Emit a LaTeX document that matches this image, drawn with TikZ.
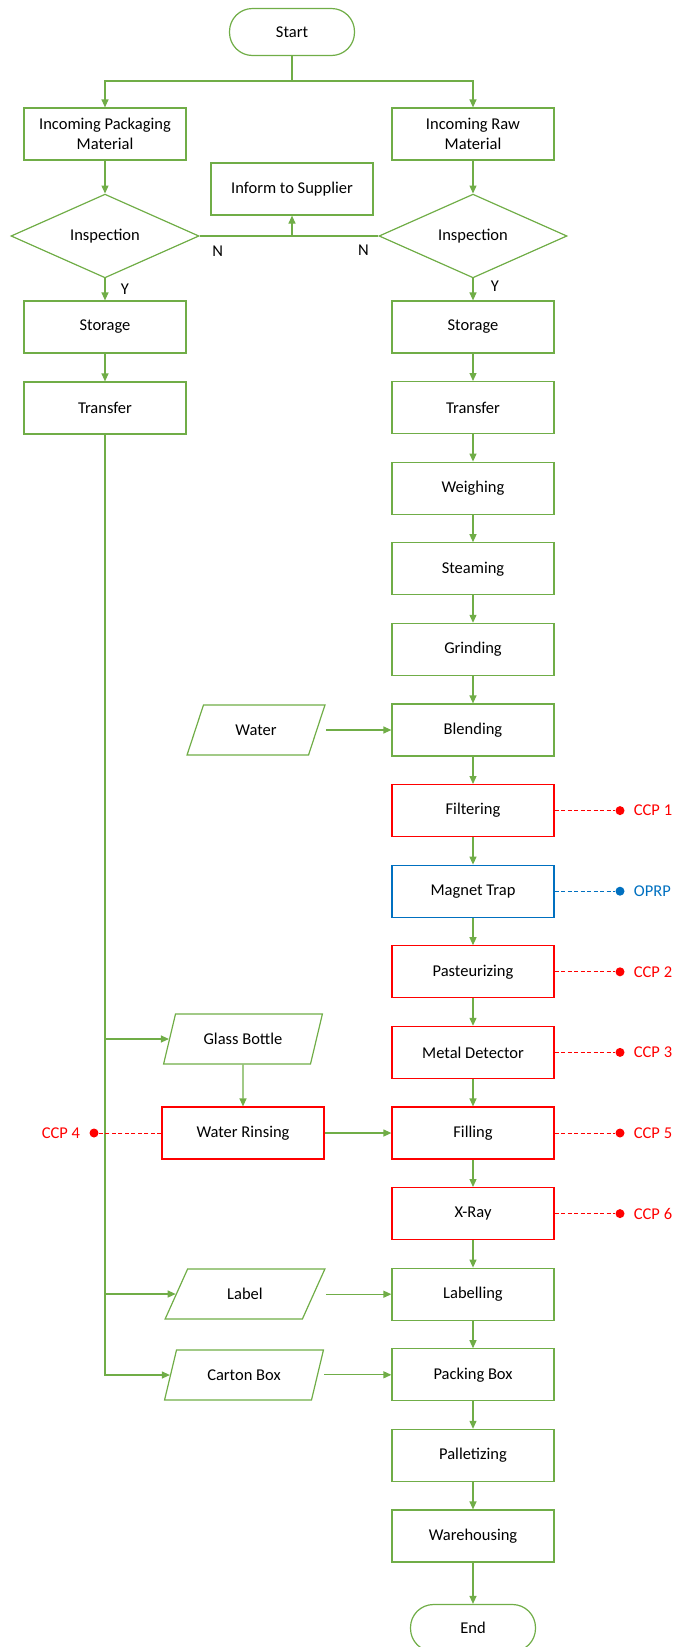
\documentclass[tikz,border=0pt]{standalone}
\usepackage{fontspec}
\setmainfont{Carlito}
\usetikzlibrary{arrows.meta,shapes.geometric,positioning,calc}

\definecolor{flowgreen}{RGB}{112,173,71}
\definecolor{ccpred}{RGB}{255,0,0}
\definecolor{oprpblue}{RGB}{0,112,192}

\begin{document}
\begin{tikzpicture}[x=1pt,y=-1pt,>={Triangle[length=8pt,width=7pt]},
  font=\fontsize{16.5}{20}\selectfont,
  box/.style={draw=flowgreen,line width=1.2pt,minimum width=162pt,minimum height=52pt,inner sep=0pt,align=center},
  term/.style={draw=flowgreen,line width=1.2pt,rounded corners=23pt,minimum width=125pt,minimum height=47pt,inner sep=0pt},
  decision/.style={diamond,draw=flowgreen,line width=1.2pt,minimum width=188pt,minimum height=68pt,inner sep=0pt},
  iobox/.style={trapezium,trapezium left angle=59,trapezium right angle=121,trapezium stretches=true,
    draw=flowgreen,line width=1.2pt,minimum width=160pt,minimum height=50pt,inner sep=0pt},
  flow/.style={->,draw=flowgreen,line width=1.2pt},
  link/.style={draw=flowgreen,line width=1.2pt},
  ccpline/.style={line width=1pt,dash pattern=on 4pt off 2.5pt},
  ccpdot/.style={circle,minimum size=9pt,inner sep=0pt},
  ccptext/.style={inner sep=0pt}]

\useasboundingbox (0,0) rectangle (673,1647);

\node[term] (start) at (292,32) {Start};
\node[box] (inPack) at (105,134) {Incoming Packaging\\Material};
\node[box] (inRaw) at (473,134) {Incoming Raw\\Material};
\node[box] (inform) at (292,189) {Inform to Supplier};
\node[decision] (insL) at (105,236) {Inspection};
\node[decision] (insR) at (473,236) {Inspection};
\node[box] (stoL) at (105,327) {Storage};
\node[box] (traL) at (105,408) {Transfer};

% main line
\foreach \nm/\txt/\col [count=\i from 0] in {stoR/Storage/flowgreen,traR/Transfer/flowgreen,
  wei/Weighing/flowgreen,ste/Steaming/flowgreen,gri/Grinding/flowgreen,ble/Blending/flowgreen,
  fil/Filtering/ccpred,mag/Magnet Trap/oprpblue,pas/Pasteurizing/ccpred,met/Metal Detector/ccpred,
  fll/Filling/ccpred,xra/X-Ray/ccpred,lab/Labelling/flowgreen,pac/Packing Box/flowgreen,
  pal/Palletizing/flowgreen,war/Warehousing/flowgreen}{
  \node[box,draw=\col] (\nm) at (473,{327+80.6*\i}) {\txt};
}
\node[term] (end) at (473,1628) {End};

\node[iobox,minimum width=138pt] (water) at (256,730) {Water};
\node[iobox] (glass) at (243,1039) {Glass Bottle};
\node[box,draw=ccpred] (rinse) at (243,1133) {Water Rinsing};
\node[iobox] (label) at (245,1294) {Label};
\node[iobox] (carton) at (244,1375) {Carton Box};

\coordinate (split) at (292,81);
\draw[link] (start) -- (split);
\draw[flow] (split) -| (inPack);
\draw[flow] (split) -| (inRaw);

\draw[flow] (inPack) -- (insL);
\draw[flow] (inRaw) -- (insR);
\draw[flow] (insL.east) -| (inform.south);
\draw[link] (insR.west) -- (insR.west -| inform.south);
\draw[flow] (insL) -- (stoL);
\draw[flow] (insR) -- (stoR);
\node (nL) at ($(insL.east)+(18,15)$) {N};
\node (nR) at ($(insR.west)+(-15,14)$) {N};
\node (yL) at ($(insL.south)+(20,11)$) {Y};
\node (yR) at ($(insR.south)+(22,8)$) {Y};
\draw[flow] (stoL) -- (traL);

\foreach \a/\b in {stoR/traR,traR/wei,wei/ste,ste/gri,gri/ble,ble/fil,fil/mag,mag/pas,pas/met,
  met/fll,fll/xra,xra/lab,lab/pac,pac/pal,pal/war,war/end}
  \draw[flow] (\a) -- (\b);

% packaging side
\draw[flow] (traL.south) |- (carton.west);
\draw[flow] (glass.west -| traL.south) -- (glass.west);
\draw[flow] (label.west -| traL.south) -- (label.west);
\draw[flow] (glass) -- (rinse);
\draw[flow] (rinse.east) -- (rinse.east -| fll.west);
\draw[flow] (water.top right corner |- ble.west) -- (ble.west);
\draw[flow] (label.top right corner |- lab.west) -- (lab.west);
\draw[flow] (carton.top right corner |- pac.west) -- (pac.west);

% control points
\foreach \nm/\lbl/\col in {fil/CCP 1/ccpred,mag/OPRP/oprpblue,pas/CCP 2/ccpred,
  met/CCP 3/ccpred,fll/CCP 5/ccpred,xra/CCP 6/ccpred}{
  \node[ccpdot,fill=\col] (dot\nm) at ($(\nm.center)+(147,0)$) {};
  \node[ccptext,text=\col,right=9pt of dot\nm] (txt\nm) {\lbl};
  \draw[ccpline,draw=\col] (\nm.east) -- (dot\nm);
}
\node[ccpdot,fill=ccpred] (dotrinse) at ($(rinse.center)+(-149,0)$) {};
\node[ccptext,text=ccpred,left=9pt of dotrinse] (txtrinse) {CCP 4};
\draw[ccpline,draw=ccpred] (rinse.west) -- (dotrinse);

\end{tikzpicture}
\end{document}
